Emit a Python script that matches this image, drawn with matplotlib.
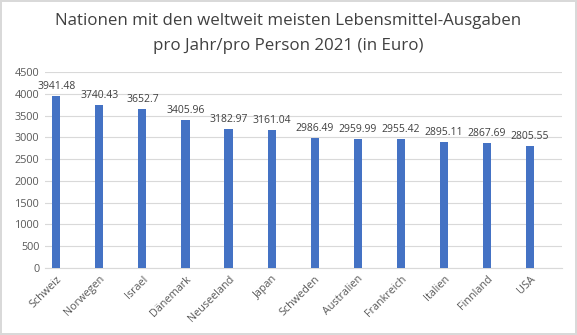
import matplotlib
matplotlib.use("Agg")
import matplotlib.pyplot as plt

countries = ["Schweiz", "Norwegen", "Israel", "Dänemark", "Neuseeland", "Japan",
             "Schweden", "Australien", "Frankreich", "Italien", "Finnland", "USA"]
values = [3941.48, 3740.43, 3652.7, 3405.96, 3182.97, 3161.04,
          2986.49, 2959.99, 2955.42, 2895.11, 2867.69, 2805.55]
labels = ["3941.48", "3740.43", "3652.7", "3405.96", "3182.97", "3161.04",
          "2986.49", "2959.99", "2955.42", "2895.11", "2867.69", "2805.55"]
yticks = [0, 500, 1000, 1500, 2000, 2500, 3000, 3500, 4000, 4500]
title = "Nationen mit den weltweit meisten Lebensmittel-Ausgaben\npro Jahr/pro Person 2021 (in Euro)"

plt.rcParams['font.family'] = ['Open Sans', 'DejaVu Sans']

fig = plt.figure(figsize=(5.77, 3.35), dpi=100)
fig.patch.set_edgecolor("#d9d9d9")
fig.patch.set_linewidth(1.5)
ax = fig.add_axes([0.078, 0.2, 0.896, 0.585])

x = list(range(len(countries)))
bars = ax.bar(x, values, width=0.19, color="#4472C4", zorder=3)
for xi, v, lab in zip(x, values, labels):
    ax.text(xi, v + 90, lab, ha="center", va="bottom", fontsize=7.5, color="#404040")

ax.set_ylim(0, 4500)
ax.set_xlim(-0.26, 11.74)
ax.set_yticks(yticks)
ax.set_yticklabels([str(t) for t in yticks], fontsize=7.8, color="#595959")
ax.set_xticks(x)
ax.set_xticklabels(countries, rotation=45, ha="right", rotation_mode="anchor",
                   fontsize=7.8, color="#595959")
ax.grid(axis="y", color="#d9d9d9", linewidth=0.8, zorder=0)
for s in ["top", "right", "left"]:
    ax.spines[s].set_visible(False)
ax.spines["bottom"].set_color("#d9d9d9")
ax.tick_params(axis="both", length=0, pad=4)

fig.text(0.5, 0.96, title, ha="center", va="top", fontsize=12.2, color="#404040",
         linespacing=1.75)

fig.savefig("out.png", dpi=100)
